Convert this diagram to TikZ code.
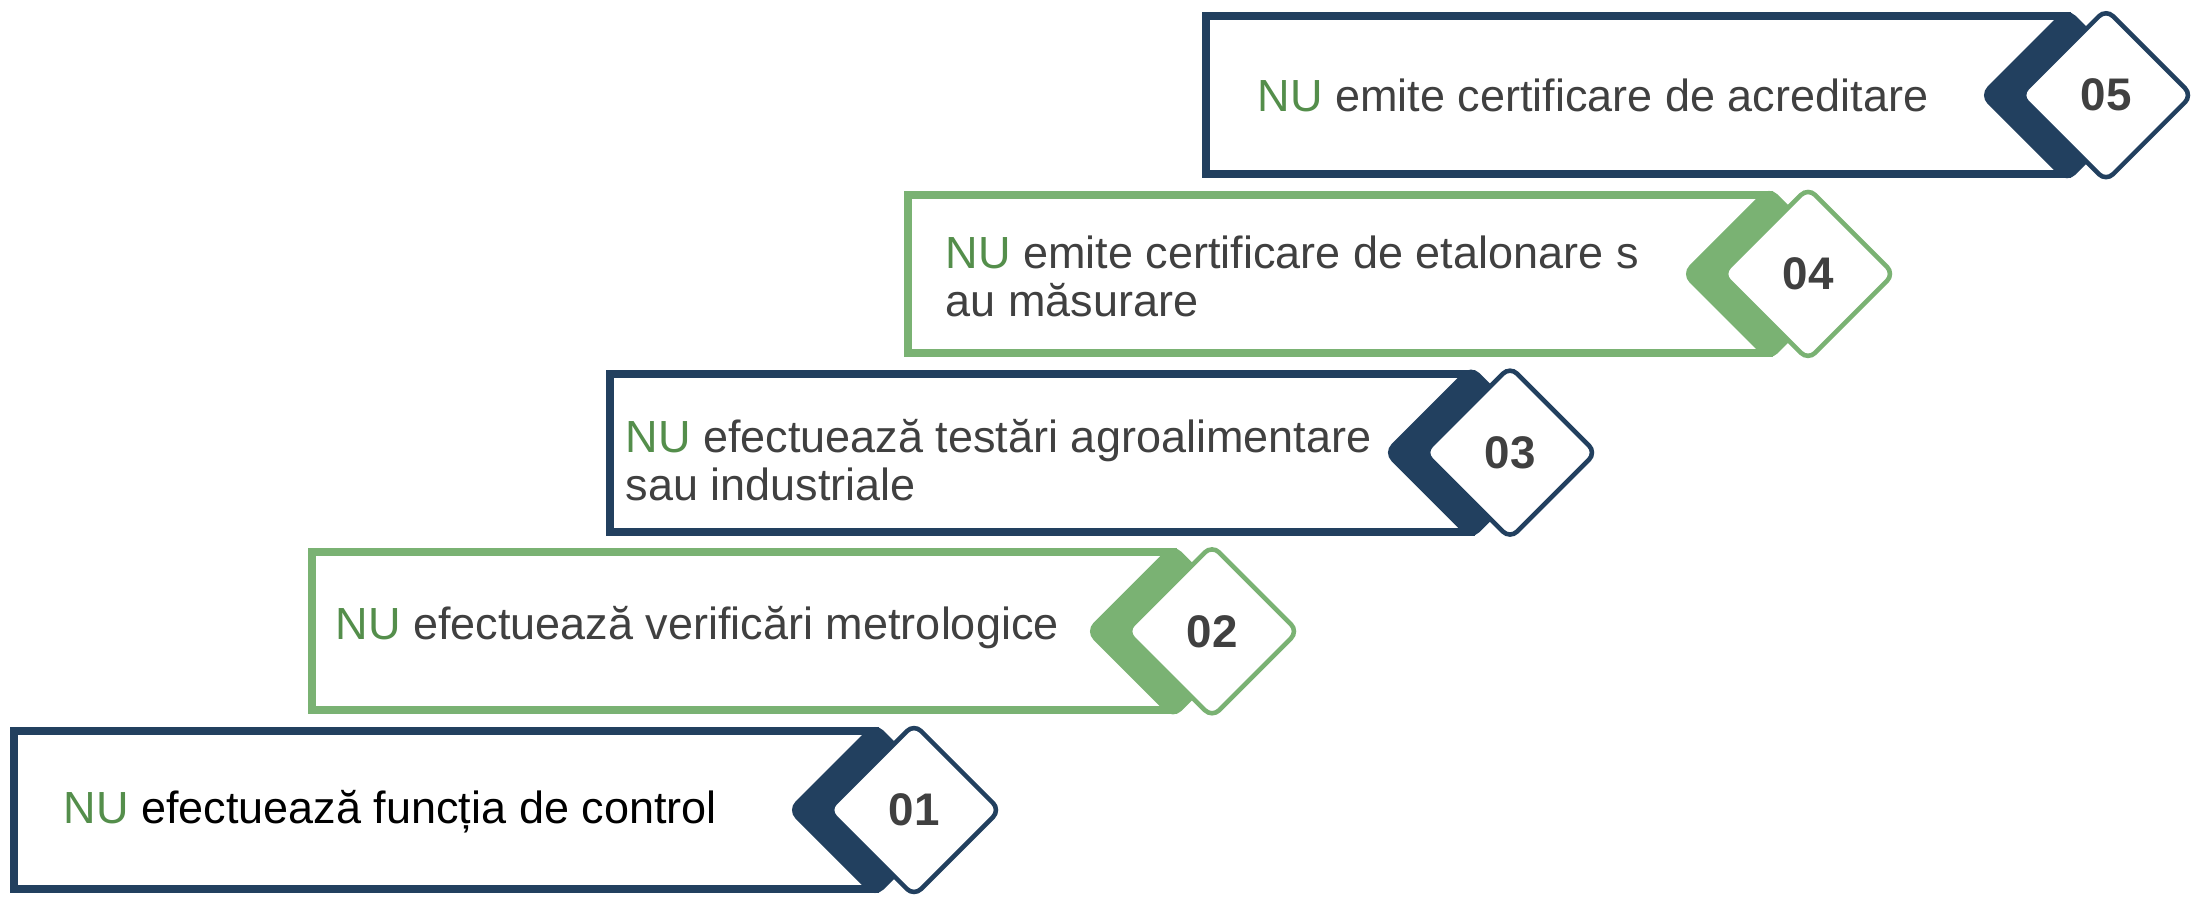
\documentclass[tikz,border=0pt]{standalone}
\usepackage{fontspec}
\setmainfont{Liberation Sans}
\usepackage{xcolor}
\usepackage{tikz}
\usetikzlibrary{calc}
\definecolor{stepNavy}{HTML}{22405F}
\definecolor{stepGreen}{HTML}{7AB273}
\definecolor{nuGreen}{HTML}{548E4B}
\definecolor{textGray}{HTML}{404040}
\newcommand{\NU}{\textcolor{nuGreen}{NU}}
\newcommand{\StepBox}[3]{
	\def\lpin{#1}
	\def\lcolor{#2}
	\def\lnum{#3}
	\def\lw{861}
	\def\lh{79}
	\def\ld{88}
	\draw[\lcolor, line width=2.3pt] ($ (\lpin)+(0,-\lh) $) rectangle ($ (\lpin)+(\lw,\lh) $);

	\fill[\lcolor, rounded corners=3.4pt] ($ (\lpin)+(\lw-\ld,0) $) -- ++(\ld,-\ld) -- ++(\ld,\ld) -- ++(-\ld,\ld) -- cycle;
	\filldraw[fill=white, draw=\lcolor, line width=1.3pt, rounded corners=2.8pt] ($ (\lpin)+(\lw+39-\ld+2,0) $) -- ++(\ld-2,-\ld+2) -- ++(\ld-2,\ld-2) -- ++(-\ld+2,\ld-2) -- cycle;

	\node[numtext] (n\lnum) at ($ (\lpin)+(\lw+39,0) $) {\lnum};
}
\tikzset{
	numtext/.style={font=\bfseries\fontsize{13pt}{13pt}\selectfont, text=textGray, inner sep=0pt},
	steptext/.style={font=\fontsize{12.8pt}{13.66pt}\selectfont, text=textGray, anchor=base west, inner sep=0pt, align=left}
}

\begin{document}
\begin{tikzpicture}[x=0.01cm, y=-0.01cm]

	\useasboundingbox (0,0) rectangle (2203,896);

	\coordinate (S1) at (14,810);
	\coordinate (S2) at (312,631.3);
	\coordinate (S3) at (610,452.6);
	\coordinate (S4) at (908,273.9);
	\coordinate (S5) at (1206,95.2);

	\StepBox{S1}{stepNavy}{01}
	\StepBox{S2}{stepGreen}{02}
	\StepBox{S3}{stepNavy}{03}
	\StepBox{S4}{stepGreen}{04}
	\StepBox{S5}{stepNavy}{05}

	% two-line texts sit on the baseline of their last line
	\node[steptext, text=black] (t1) at ($ (S1)+(49,13) $) {\NU{} efectuează funcția de control};
	\node[steptext] (t2) at ($ (S2)+(23,7.7) $) {\NU{} efectuează verificări metrologice};
	\node[steptext] (t3) at ($ (S3)+(15,48.1) $) {\NU{} efectuează testări agroalimentare\\sau industriale};
	\node[steptext] (t4) at ($ (S4)+(37,43) $) {\NU{} emite certificare de etalonare s\\au măsurare};
	\node[steptext] (t5) at ($ (S5)+(51,16) $) {\NU{} emite certificare de acreditare};

\end{tikzpicture}
\end{document}
